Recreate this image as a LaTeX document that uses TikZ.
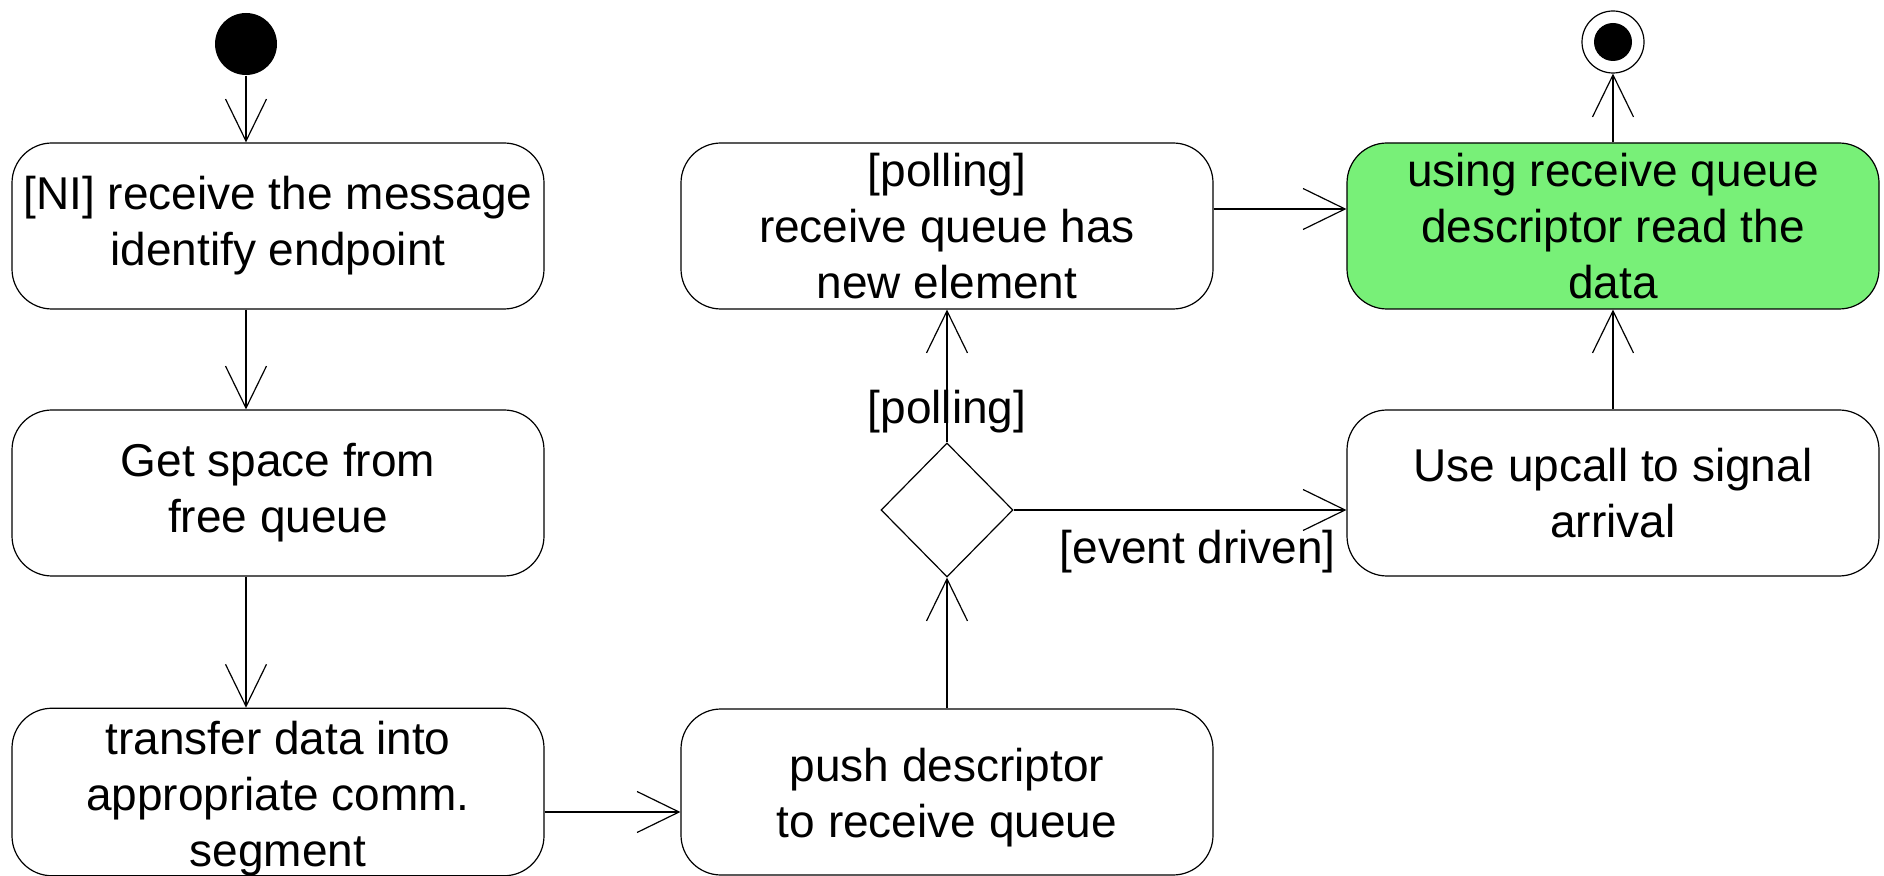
\documentclass[tikz,border=0pt]{standalone}
\usepackage{fontspec}
\setmainfont{Liberation Sans}
\usetikzlibrary{arrows.meta,shapes.geometric}

\begin{document}
\begin{tikzpicture}[x=0.5pt, y=-0.5pt, line width=0.6pt, font=\fontsize{23}{28}\selectfont,
    >={Straight Barb[length=21pt, width=20.5pt]},
    act/.style={draw, rounded corners=20pt, align=center, inner sep=0pt, minimum width=266pt, minimum height=83pt},
    flow/.style={->}]
  \useasboundingbox (0,0) rectangle (1884,876);
  % start and end
  \node[circle, fill=black, inner sep=0pt, minimum size=31pt] (start) at (246,44) {};
  \node[circle, draw, fill=white, inner sep=0pt, minimum size=31pt] (stop) at (1613,42) {};
  \node[circle, fill=black, inner sep=0pt, minimum size=19pt] (stopdot) at (stop) {};
  % left column
  \node[act] (receive) at (278,226) {[NI] receive the message\\identify endpoint};
  \node[act] (space) at (278,493) {Get space from\\free queue};
  \node[act] (transfer) at (278,792) {\rule{0pt}{23pt}transfer data into\\appropriate comm.\\segment};
  % middle column
  \node[act] (push) at (947,792) {\rule{0pt}{22pt}push descriptor\\to receive queue};
  \node[draw, diamond, inner sep=0pt, minimum width=66pt, minimum height=67pt] (choice) at (947,510) {};
  \node[act] (polling) at (947,226) {[polling]\\receive queue has\\new element};
  % right column
  \node[act, fill={rgb,255:red,120;green,240;blue,120}] (readdata) at (1613,226) {using receive queue\\descriptor read the\\data};
  \node[act] (upcall) at (1613,493) {Use upcall to signal\\arrival};

  \draw[flow] (start) -- (start |- receive.north);
  \draw[flow] (start |- receive.south) -- (start |- space.north);
  \draw[flow] (start |- space.south) -- (start |- transfer.north);
  \draw[flow] ([yshift=-10pt]transfer.east) -- ([yshift=-10pt]push.west);
  \draw[flow] (push) -- (choice);
  \draw[flow] (choice) -- node[pos=0.23]{[polling]} (polling);
  \draw[flow] (choice) -- node[pos=1, below left, inner sep=3pt, xshift=-2pt, yshift=-7pt]{[event driven]} (upcall.west |- choice);
  \draw[flow] ([yshift=8.5pt]polling.east) -- ([yshift=8.5pt]readdata.west);
  \draw[flow] (upcall) -- (readdata);
  \draw[flow] (readdata) -- (stop);
\end{tikzpicture}
\end{document}
